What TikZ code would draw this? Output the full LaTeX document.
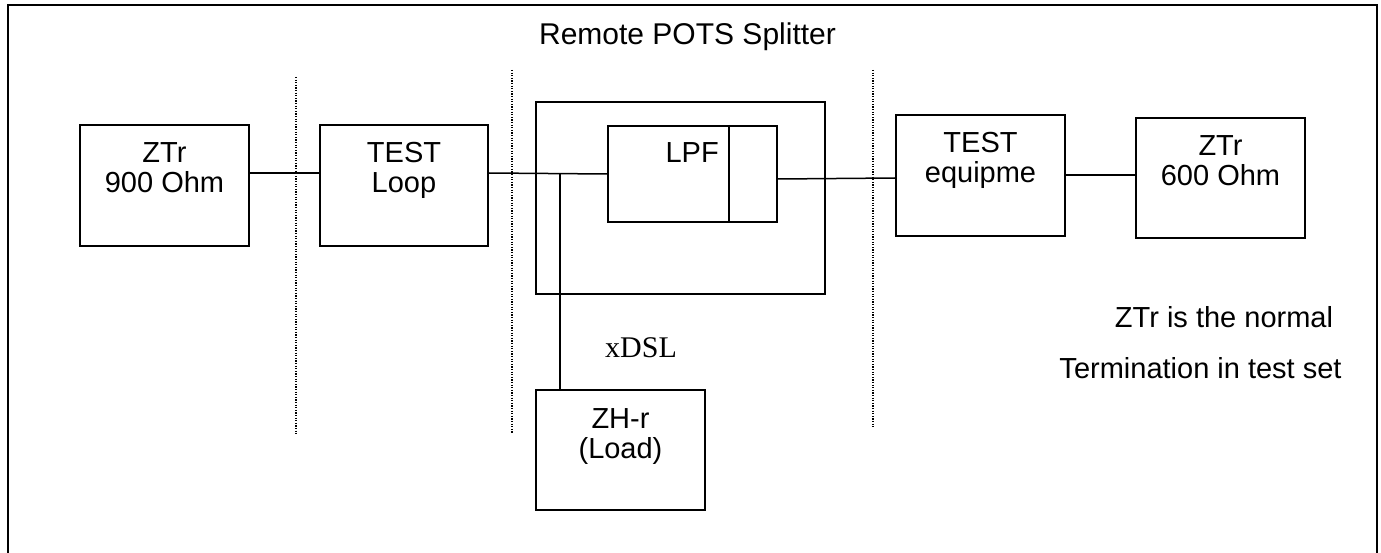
\documentclass[tikz,border=0pt]{standalone}
\usepackage{fontspec}
\setmainfont{Liberation Sans}
\newfontfamily\serifxdsl{Liberation Serif}
\usetikzlibrary{calc}
\tikzset{
  blk/.style={draw=black, line width=2pt, minimum width=169pt, minimum height=121pt, inner sep=0pt},
  wire/.style={draw=black, line width=1.5pt},
  sep/.style={draw=black, line width=1.3pt, dash pattern=on 1.2pt off 1.4pt},
  txt/.style={inner sep=0pt, anchor=base, font=\fontsize{29}{34}\selectfont},
  ttl/.style={inner sep=0pt, anchor=base, font=\fontsize{30}{36}\selectfont},
}
\begin{document}
\begin{tikzpicture}[x=1pt, y=-1pt]
\useasboundingbox (0,0) rectangle (1381,553);
% outer frame (bottom edge lies outside the picture)
\draw[line width=2pt] (8,570) -- (8,5) -- (1377,5) -- (1377,570);
\node[ttl] (title) at (687.5,45) {Remote POTS Splitter};
% separators
\coordinate (s1t) at (296,77);  \coordinate (s1b) at (296,435);
\coordinate (s2t) at (512,70);  \coordinate (s2b) at (512,433);
\coordinate (s3t) at (873,70);  \coordinate (s3b) at (873,427);
\draw[sep] (s1t) -- (s1b);
\draw[sep] (s2t) -- (s2b);
\draw[sep] (s3t) -- (s3b);
% blocks
\node[blk] (zt9) at (164.5,185.5) {};
\node[blk, minimum width=168pt] (tl) at (404,185.5) {};
\node[blk, minimum width=289pt, minimum height=192pt] (inner) at (680.5,198) {};
\node[blk, minimum height=96pt] (lpf) at (692.5,174) {};
\node[blk] (te) at (980.5,175.5) {};
\node[blk, minimum height=120pt] (zt6) at (1220.5,178) {};
\node[blk, minimum height=120pt] (zh) at (620.5,450) {};
\draw[line width=1.5pt] ([xshift=-49pt]lpf.north east) -- ([xshift=-49pt]lpf.south east);
% texts
\node[txt] (zt9a) at ([yshift=-39pt]zt9.north) {ZTr};
\node[txt] (zt9b) at ([yshift=-69pt]zt9.north) {900 Ohm};
\node[txt] (tla) at ([yshift=-39pt]tl.north) {TEST};
\node[txt] (tlb) at ([yshift=-69pt]tl.north) {Loop};
\node[txt, anchor=base east] (lpft) at ([xshift=-59pt,yshift=-38pt]lpf.north east) {LPF};
\node[txt] (tea) at ([yshift=-39pt]te.north) {TEST};
\node[txt] (teb) at ([yshift=-69pt]te.north) {equipme};
\node[txt] (zt6a) at ([yshift=-39pt]zt6.north) {ZTr};
\node[txt] (zt6b) at ([yshift=-69pt]zt6.north) {600 Ohm};
\node[txt] (zha) at ([yshift=-39pt]zh.north) {ZH-r};
\node[txt] (zhb) at ([yshift=-69pt]zh.north) {(Load)};
\node[txt, font=\serifxdsl\fontsize{30}{36}\selectfont] (xdsl) at (641,357) {xDSL};
\node[txt] (n1) at (1224,327) {ZTr is the normal};
\node[txt] (n2) at (1200.5,378) {Termination in test set};
% wires
\draw[wire] ([yshift=-49pt]zt9.north east) -- ([yshift=-49pt]tl.north west);
\draw[wire] ([yshift=-49pt]tl.north east) -- (lpf.west);
\coordinate (br) at (560,174);
\draw[wire] (br) -- (br |- zh.north);
\draw[wire] ([yshift=-5pt]lpf.east) -- ([yshift=-64pt]te.north west);
\draw[wire] ([yshift=-61pt]te.north east) -- ([yshift=-58pt]zt6.north west);
\end{tikzpicture}
\end{document}
